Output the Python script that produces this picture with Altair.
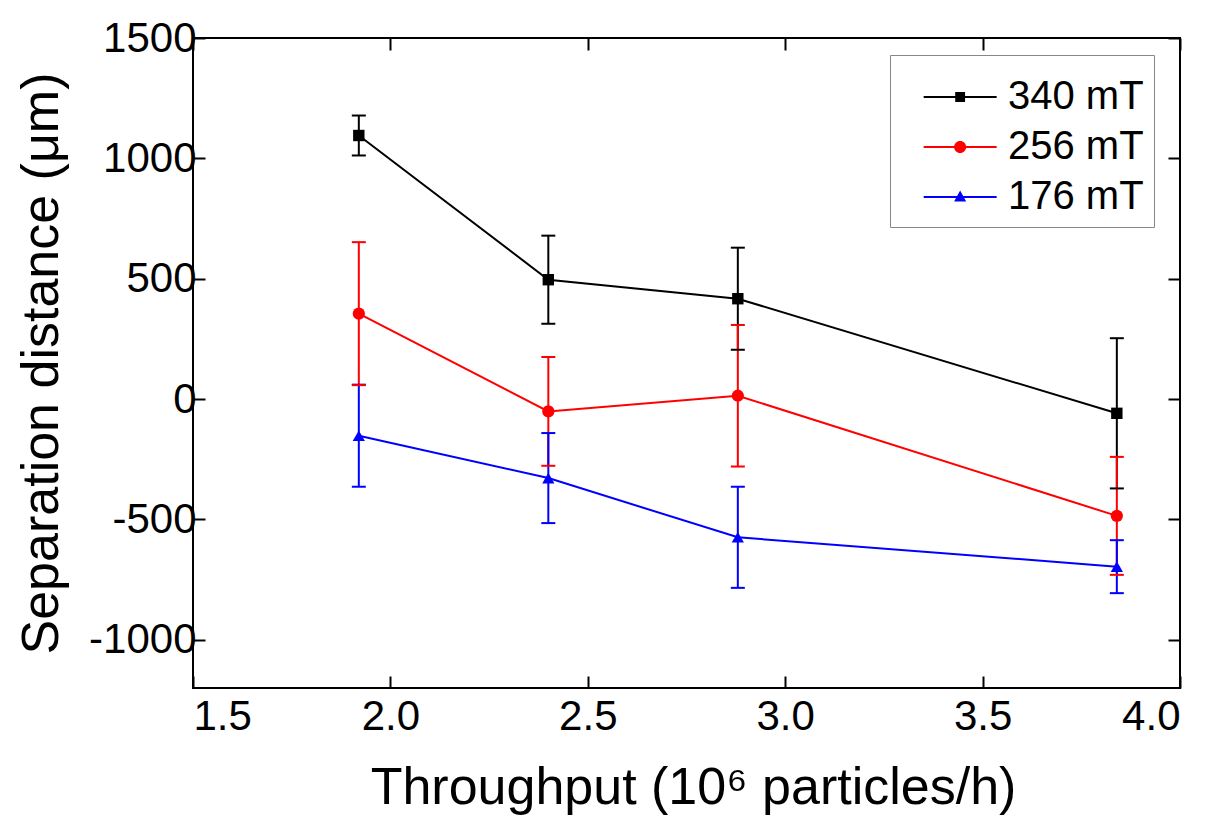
import altair as alt
import pandas as pd

# ---- data ----
x_vals = [1.92, 2.40, 2.88, 3.84]
series_names = ["340 mT", "256 mT", "176 mT"]
y_340 = [1095, 496, 417, -59]
err_340 = [83, 183, 212, 312]
y_256 = [355, -51, 14, -485]
err_256 = [297, 226, 294, 245]
y_176 = [-152, -328, -574, -696]
err_176 = [212, 187, 210, 110]
colors = ["#000000", "#ff0000", "#0000ff"]
marker_shapes = ["square", "circle", "triangle-up"]
x_ticks = [1.5, 2.0, 2.5, 3.0, 3.5, 4.0]
y_ticks = [-1000, -500, 0, 500, 1000, 1500]

rows = []
for name, ys, es in zip(series_names, [y_340, y_256, y_176], [err_340, err_256, err_176]):
    for xv, yv, ev in zip(x_vals, ys, es):
        rows.append(dict(series=name, x=xv, y=yv, lo=yv - ev, hi=yv + ev))
df = pd.DataFrame(rows)

FONT = "Liberation Sans"
TICK = alt.ExprRef(expr="-12")

xs = alt.Scale(domain=[1.5, 4.0], nice=False, zero=False)
ys = alt.Scale(domain=[-1200, 1500], nice=False, zero=False)
cs = alt.Scale(domain=series_names, range=colors)

# legend symbols: line segment with marker (unit box coords)
line_part = "M0.2,-0.055H4.2V0.055H0.2Z "
legend_paths = [
    line_part + "M1.93,-0.27H2.47V0.27H1.93Z",
    line_part + "M2.53,0A0.33,0.33 0 1,1 1.87,0A0.33,0.33 0 1,1 2.53,0Z",
    line_part + "M2.2,-0.36L2.53,0.24H1.87Z",
]
shs = alt.Scale(domain=series_names, range=legend_paths)

y_label_expr = "datum.value < 0 ? '-' + abs(datum.value) : '' + datum.value"

x_main = alt.Axis(values=x_ticks, format=".1f", title="Throughput (10⁶ particles/h)",
                  tickSize=TICK, labelPadding=20, titlePadding=25, titleX=500,
                  domain=False, grid=False)
y_main = alt.Axis(values=y_ticks, labelExpr=y_label_expr, title="Separation distance (μm)",
                  tickSize=TICK, labelPadding=9, titlePadding=20, domain=False, grid=False)
x_top = alt.Axis(orient="top", values=x_ticks, labels=False, title=None,
                 tickSize=TICK, domain=False, grid=False)
y_right = alt.Axis(orient="right", values=y_ticks, labels=False, title=None,
                   tickSize=TICK, domain=False, grid=False)

base = alt.Chart(df)
col_nolegend = alt.Color("series:N", scale=cs, legend=None)

err_rules = base.mark_rule(strokeWidth=2).encode(
    x=alt.X("x:Q", scale=xs, axis=x_main),
    y=alt.Y("lo:Q", scale=ys, axis=y_main),
    y2="hi:Q",
    color=col_nolegend,
)
cap_hi = base.mark_tick(orient="horizontal", size=14, thickness=2, opacity=1).encode(
    x=alt.X("x:Q", scale=xs, axis=None),
    y=alt.Y("hi:Q", scale=ys, axis=None),
    color=col_nolegend,
)
cap_lo = base.mark_tick(orient="horizontal", size=14, thickness=2, opacity=1).encode(
    x=alt.X("x:Q", scale=xs, axis=None),
    y=alt.Y("lo:Q", scale=ys, axis=None),
    color=col_nolegend,
)
lines = base.mark_line(strokeWidth=2).encode(
    x=alt.X("x:Q", scale=xs, axis=x_top),
    y=alt.Y("y:Q", scale=ys, axis=y_right),
    color=col_nolegend,
    detail="series:N",
)

point_layers = []
for name, shp, sz in zip(series_names, marker_shapes, [130, 150, 150]):
    point_layers.append(
        base.transform_filter(alt.datum.series == name)
        .mark_point(shape=shp, filled=True, size=sz, opacity=1)
        .encode(
            x=alt.X("x:Q", scale=xs, axis=None),
            y=alt.Y("y:Q", scale=ys, axis=None),
            color=col_nolegend,
        )
    )

legend_layer = base.transform_filter("false").mark_point(filled=True, opacity=1, size=1332).encode(
    x=alt.X("x:Q", scale=xs, axis=None),
    y=alt.Y("y:Q", scale=ys, axis=None),
    color=alt.Color("series:N", scale=cs, legend=alt.Legend(
        title=" ", titleFontSize=12, titlePadding=0,
        orient="none", legendX=697, legendY=17, padding=10,
        strokeColor="#888888", fillColor="white", labelFontSize=40, labelFont=FONT,
        labelColor="black", symbolSize=1332, labelOffset=68, rowPadding=10,
        symbolStrokeWidth=0, symbolOpacity=1, labelLimit=400)),
    shape=alt.Shape("series:N", scale=shs),
)

chart = alt.layer(err_rules, cap_hi, cap_lo, lines, *point_layers, legend_layer).resolve_axis(
    x="independent", y="independent"
).resolve_legend(
    color="independent", shape="independent"
).properties(
    width=987, height=650,
    autosize=alt.AutoSizeParams(type="none"),
    padding={"left": 185, "top": 30, "right": 20, "bottom": 128},
).configure_view(
    stroke="black", strokeWidth=2
).configure_axis(
    labelFont=FONT, titleFont=FONT, labelFontSize=42, titleFontSize=52,
    labelColor="black", titleColor="black", titleFontWeight="normal",
    tickColor="black", tickWidth=2,
)

chart.save("out.html", embed_options={"renderer": "svg", "actions": False})
